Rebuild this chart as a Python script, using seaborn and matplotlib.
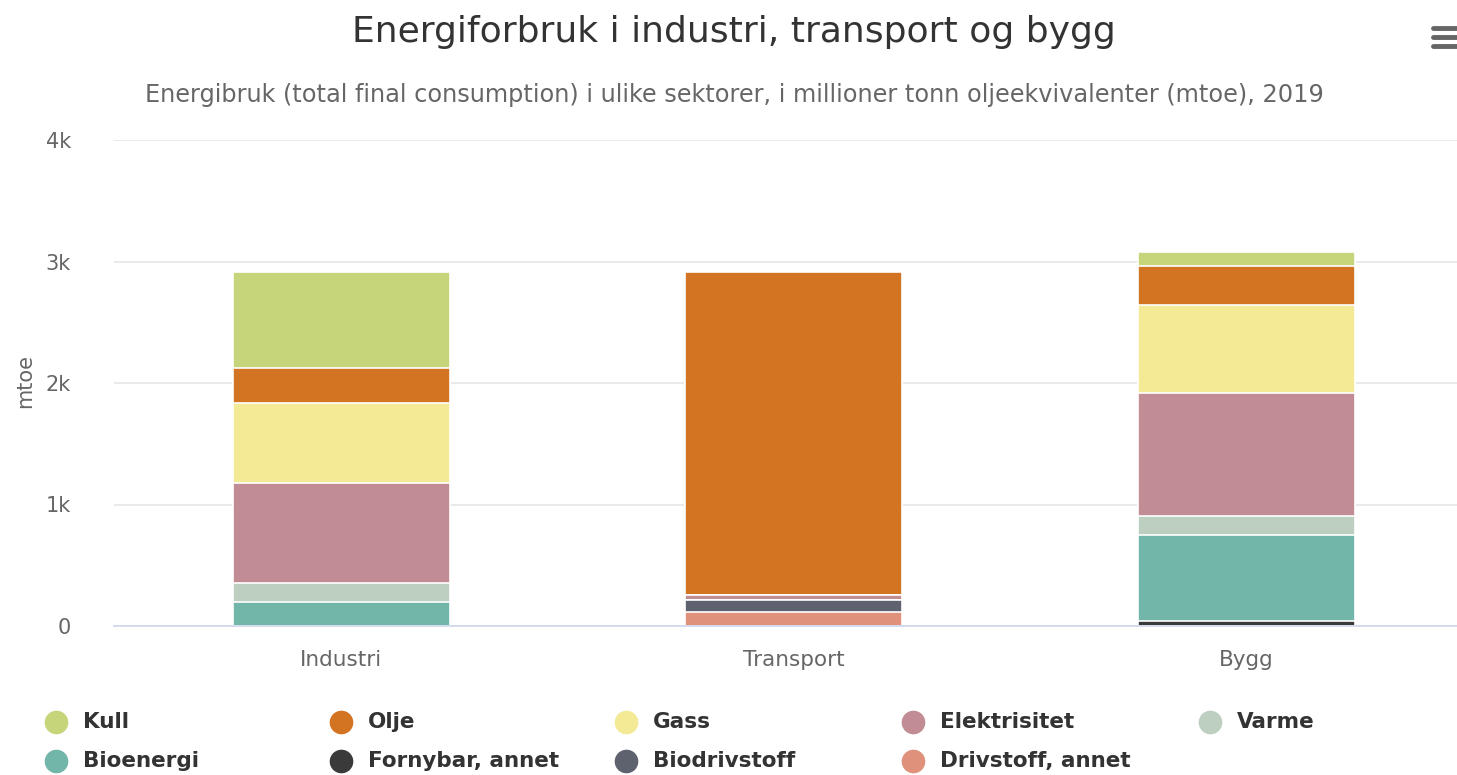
import numpy as np
import pandas as pd
import matplotlib
matplotlib.use("Agg")
import matplotlib.pyplot as plt
import seaborn as sns
from matplotlib.lines import Line2D

# ---- data ----
categories = ["Industri", "Transport", "Bygg"]
series_names = ["Kull", "Olje", "Gass", "Elektrisitet", "Varme",
                "Bioenergi", "Fornybar, annet", "Biodrivstoff", "Drivstoff, annet"]
kull = [790, 0, 120]
olje = [288, 2658, 317]
gass = [660, 0, 725]
elektrisitet = [816, 38, 1018]
varme = [160, 0, 157]
bioenergi = [198, 0, 700]
fornybar = [0, 0, 45]
biodrivstoff = [0, 99, 0]
drivstoff = [0, 115, 0]
colors = ["#c6d47a", "#d37422", "#f4e994", "#c18c93", "#bccfc1",
          "#72b6a9", "#3a3a3a", "#5e626e", "#df917c"]
yticks = [0, 1000, 2000, 3000, 4000]
ytick_labels = ["0", "1k", "2k", "3k", "4k"]

values = [kull, olje, gass, elektrisitet, varme, bioenergi, fornybar, biodrivstoff, drivstoff]

sns.set_theme(style="white")
plt.rcParams['font.family'] = ['DejaVu Sans']

W, H = 1457, 775
fig = plt.figure(figsize=(W / 100, H / 100), dpi=100)
ax = fig.add_axes([114 / W, 1 - 626 / H, (1457 - 114) / W, (626 - 140) / H])

# stacked: first series on top -> cumulative from bottom (last series)
df = pd.DataFrame({name: v for name, v in zip(series_names, values)}, index=categories)
cum = df[series_names[::-1]].cumsum(axis=1)
# draw tallest cumulative first
for name, col in zip(series_names, colors):
    d = pd.DataFrame({"cat": categories, "val": cum[name].values})
    sns.barplot(data=d, x="cat", y="val", color=col, width=0.48,
                edgecolor="white", linewidth=1.2, saturation=1, ax=ax)

ax.set_xlim(-0.502, 2.466)
ax.set_ylim(0, 4000)
ax.set_yticks(yticks)
ax.set_yticklabels(ytick_labels)
ax.yaxis.grid(True, color="#e6e6e6", linewidth=1.2)
ax.set_axisbelow(True)
for s in ["top", "right", "left"]:
    ax.spines[s].set_visible(False)
ax.spines["bottom"].set_color("#ccd6eb")
ax.spines["bottom"].set_linewidth(1.2)
ax.tick_params(axis="y", length=0, pad=31, labelsize=15, labelcolor="#666666")
ax.tick_params(axis="x", length=0, pad=17, labelsize=15.5, labelcolor="#666666")
ax.set_xlabel("")
ax.set_ylabel("")
fig.text(25 / W, 1 - 381 / H, "mtoe", rotation=90, ha="center", va="center",
         fontsize=15, color="#666666")

fig.text(734 / W, 1 - 32 / H, "Energiforbruk i industri, transport og bygg",
         ha="center", va="center", fontsize=26, color="#333333")
fig.text(734 / W, 1 - 95 / H,
         "Energibruk (total final consumption) i ulike sektorer, i millioner tonn oljeekvivalenter (mtoe), 2019",
         ha="center", va="center", fontsize=17.3, color="#666666")

# menu icon
for yy in [28, 37, 46]:
    fig.add_artist(Line2D([1433 / W, 1457 / W], [1 - yy / H, 1 - yy / H],
                          transform=fig.transFigure, color="#666666", linewidth=3.5))

# legend (row-wise, like the reference)
col_x = [56, 341, 626, 913, 1210]
row_y = [722, 761]
for i, (name, col) in enumerate(zip(series_names, colors)):
    r, c = divmod(i, 5)
    x, y = col_x[c], row_y[r]
    fig.add_artist(Line2D([x / W], [1 - y / H], transform=fig.transFigure,
                          marker="o", markersize=16, color=col, linestyle="none"))
    fig.text((x + 27) / W, 1 - y / H, name, ha="left", va="center",
             fontsize=15.5, fontweight="bold", color="#333333")

fig.savefig("out.png", dpi=100)
